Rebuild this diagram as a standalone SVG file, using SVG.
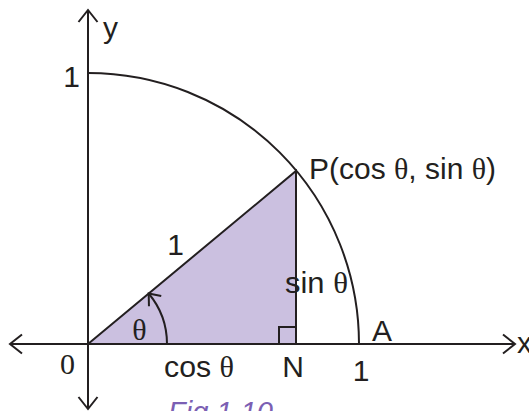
<svg xmlns="http://www.w3.org/2000/svg" width="529" height="411" viewBox="0 0 529 411">
<style>
.ln{fill:none;stroke:#231f20;stroke-width:2}
.t{font-family:"Liberation Sans",Arial,sans-serif;font-size:30px;fill:#231f20}
.s{font-family:"Liberation Serif","Times New Roman",serif}
.fig{font-family:"Liberation Sans",Arial,sans-serif;font-size:29px;font-style:italic;fill:#7b5fb3}
</style>
<defs>
<marker id="chev" markerUnits="userSpaceOnUse" markerWidth="30" markerHeight="30" viewBox="-15 -15 30 30" refX="0" refY="0" orient="auto">
<path d="M -12 -9.5 L 0 0 L -12 9.5" fill="none" stroke="#231f20" stroke-width="2"/>
</marker>
<marker id="chev2" markerUnits="userSpaceOnUse" markerWidth="30" markerHeight="30" viewBox="-15 -15 30 30" refX="0" refY="0" orient="auto">
<path d="M -10 -8 L 0 0 L -10 8" fill="none" stroke="#231f20" stroke-width="2"/>
</marker>
</defs>
<g id="triangle">
<path d="M 88 344 L 296 171 L 296 344 Z" fill="#cbc0e0" stroke="#231f20" stroke-width="2"/>
<path class="ln" d="M 279 344 L 279 327 L 296 327"/>
</g>
<g id="connectors">
<line class="ln" x1="88" y1="344" x2="10" y2="344" marker-end="url(#chev)"/>
<line class="ln" x1="88" y1="344" x2="515" y2="344" marker-end="url(#chev)"/>
<line class="ln" x1="88" y1="344" x2="88" y2="10" marker-end="url(#chev)"/>
<line class="ln" x1="88" y1="344" x2="88" y2="409" marker-end="url(#chev)"/>
<path class="ln" d="M 88 73 A 271 271 0 0 1 359 344"/>
<path class="ln" d="M 167 344 A 79 79 0 0 0 148.7 293.5" marker-end="url(#chev2)"/>
</g>
<g id="labels">
<text class="t" x="103" y="38">y</text>
<text class="t" x="71.5" y="87" text-anchor="middle">1</text>
<text class="t" x="175.5" y="255" text-anchor="middle">1</text>
<text class="t s" x="139.5" y="340" text-anchor="middle">θ</text>
<text class="t s" x="67.5" y="374" text-anchor="middle" font-size="26">0</text>
<text class="t" x="164" y="377" textLength="70" lengthAdjust="spacingAndGlyphs">cos <tspan class="s">θ</tspan></text>
<text class="t" x="293" y="377" text-anchor="middle">N</text>
<text class="t" x="361" y="381" text-anchor="middle">1</text>
<text class="t" x="382" y="341" text-anchor="middle">A</text>
<text class="t" x="517" y="353">x</text>
<text class="t" x="285" y="293" textLength="63" lengthAdjust="spacingAndGlyphs">sin <tspan class="s">θ</tspan></text>
<text class="t" x="309" y="179" textLength="187" lengthAdjust="spacingAndGlyphs">P(cos <tspan class="s">θ</tspan>, sin <tspan class="s">θ</tspan>)</text>
<text class="fig" x="168" y="422">Fig 1.10</text>
</g>
</svg>
